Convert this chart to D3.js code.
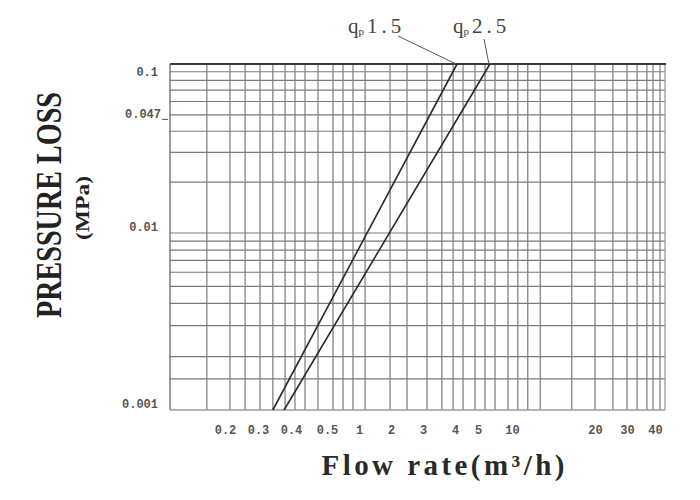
<!DOCTYPE html>
<html>
<head>
<meta charset="utf-8">
<script src="https://cdn.jsdelivr.net/npm/d3@7/dist/d3.min.js"></script>
<style>
  html, body { margin: 0; padding: 0; background: #fff; }
  svg { display: block; }
</style>
</head>
<body>
<svg id="chart" width="700" height="500"></svg>
<script>
// ---------------- data ----------------
const xTickValues = [0.2, 0.3, 0.4, 0.5, 1, 2, 3, 4, 5, 10, 20, 30, 40];
const xTickLabels = ["0.2", "0.3", "0.4", "0.5", "1", "2", "3", "4", "5", "10", "20", "30", "40"];
const xGridValues = [0.167, 0.215, 0.261, 0.306, 0.345, 0.382, 0.411, 0.439, 0.475,
  0.594, 0.75, 0.906, 1.19, 1.97, 2.5, 3.125, 3.59, 3.94, 4.35, 4.87,
  6.03, 7.5, 9.41, 10.7, 11.9, 13.4, 17.2, 20, 25.6, 30, 33.6, 37.1, 39.3, 45];
const yTickValues = [0.1, 0.047, 0.01, 0.001];
const yTickLabels = ["0.1", "0.047", "0.01", "0.001"];
const yGridValues = [0.0015, 0.002, 0.003, 0.004, 0.005, 0.006, 0.007, 0.008, 0.009,
  0.01, 0.02, 0.03, 0.04, 0.05, 0.06, 0.07, 0.08, 0.09];
const seriesNames = ["1.5", "2.5"];
const seriesQp15 = [[0.345, 0.001], [4.09, 0.1]];
const seriesQp25 = [[0.379, 0.001], [6.76, 0.1]];

// ---------------- layout ----------------
const L = 170, R = 665, T = 64, B = 410;
const svg = d3.select("#chart");

// x: piecewise (the chart's irregular scale), anchors at label centres
const xDomain = [0.1].concat(xTickValues, [50]);
const xRange = [170, 225, 258, 291, 327, 359, 391, 423, 455, 478, 512, 595, 627, 655, 665];
const x = d3.scaleLinear().domain(xDomain).range(xRange);
const y = d3.scaleLog().domain([0.001, 0.01, 0.1]).range([B, 233, T]);

const g = svg.append("g");

// vertical grid
g.selectAll("line.vg").data(xGridValues).join("line")
  .attr("x1", d => x(d)).attr("x2", d => x(d))
  .attr("y1", T).attr("y2", B)
  .attr("stroke", "#7a7a7a").attr("stroke-width", 1.2);

// horizontal grid
g.selectAll("line.hg").data(yGridValues).join("line")
  .attr("x1", L).attr("x2", R)
  .attr("y1", d => y(d)).attr("y2", d => y(d))
  .attr("stroke", "#7a7a7a").attr("stroke-width", 1.2);

// frame
g.append("line").attr("x1", L).attr("x2", L).attr("y1", T).attr("y2", B)
  .attr("stroke", "#6a6a6a").attr("stroke-width", 1.3);
g.append("line").attr("x1", R).attr("x2", R).attr("y1", T).attr("y2", B)
  .attr("stroke", "#9a9a9a").attr("stroke-width", 1.3);
g.append("line").attr("x1", L).attr("x2", R).attr("y1", B).attr("y2", B)
  .attr("stroke", "#9a9a9a").attr("stroke-width", 1.5);
g.append("line").attr("x1", L).attr("x2", R + 1).attr("y1", T).attr("y2", T)
  .attr("stroke", "#3a3a3a").attr("stroke-width", 2);

// curves
const line = d3.line().x(d => x(d[0])).y(d => y(d[1]));
[seriesQp15, seriesQp25].forEach(s => {
  g.append("path").datum(s).attr("d", line)
    .attr("fill", "none").attr("stroke", "#2a2a2a").attr("stroke-width", 1.6);
});

// x tick labels
const xAxis = d3.axisBottom(x).tickValues(xTickValues)
  .tickFormat((d, i) => xTickLabels[i]).tickSize(0).tickPadding(0);
const xa = svg.append("g").attr("transform", `translate(0,${B})`).call(xAxis);
xa.select(".domain").remove();
xa.selectAll("text").attr("dy", null).attr("y", 24)
  .attr("font-family", "Liberation Mono, monospace").attr("font-size", 12)
  .attr("font-weight", "bold").attr("fill", "#555");

// y tick labels
const ya = svg.append("g");
ya.selectAll("text").data(yTickValues).join("text")
  .attr("x", (d, i) => i === 1 ? 161 : 158)
  .attr("y", d => Math.max(y(d) - 6, T + 8))
  .attr("dy", "0.35em")
  .attr("text-anchor", "end")
  .attr("font-family", "Liberation Mono, monospace").attr("font-size", 12)
  .attr("font-weight", "bold").attr("fill", "#555")
  .text((d, i) => yTickLabels[i]);
// small tick dash at 0.047
ya.append("line").attr("x1", 162).attr("x2", 168)
  .attr("y1", y(0.047)).attr("y2", y(0.047))
  .attr("stroke", "#555").attr("stroke-width", 1);

// axis titles
svg.append("text")
  .attr("transform", "translate(61,205) rotate(-90)")
  .attr("text-anchor", "middle")
  .attr("font-family", "Liberation Serif, serif").attr("font-weight", "bold")
  .attr("font-size", 36).attr("fill", "#222")
  .attr("textLength", 226).attr("lengthAdjust", "spacingAndGlyphs")
  .text("PRESSURE LOSS");
svg.append("text")
  .attr("transform", "translate(89,208) rotate(-90)")
  .attr("text-anchor", "middle")
  .attr("font-family", "Liberation Serif, serif").attr("font-weight", "bold")
  .attr("font-size", 19).attr("fill", "#222")
  .attr("textLength", 64).attr("lengthAdjust", "spacingAndGlyphs")
  .text("(MPa)");
svg.append("text")
  .attr("x", 443).attr("y", 475)
  .attr("text-anchor", "middle")
  .attr("font-family", "Liberation Serif, serif").attr("font-weight", "bold")
  .attr("font-size", 29).attr("fill", "#2a2a2a")
  .attr("textLength", 243).attr("lengthAdjust", "spacing")
  .text("Flow rate(m³/h)");

// series labels with leader lines
const labelPos = [{ lx: 348, ly: 33, ax: 398, ay: 36 }, { lx: 453, ly: 33, ax: 484, ay: 39 }];
[seriesQp15, seriesQp25].forEach((s, i) => {
  const p = labelPos[i];
  const t = svg.append("text").attr("x", p.lx).attr("y", p.ly)
    .attr("font-family", "Liberation Serif, serif").attr("font-size", 21)
    .attr("fill", "#444");
  t.append("tspan").text("q");
  t.append("tspan").attr("font-size", 11).attr("dy", 2).text("p");
  t.append("tspan").attr("dy", -2).attr("dx", 3).attr("letter-spacing", 4).text(seriesNames[i]);
  const top = s[s.length - 1];
  svg.append("line").attr("x1", p.ax).attr("y1", p.ay)
    .attr("x2", x(top[0]) - 1).attr("y2", y(top[1]))
    .attr("stroke", "#555").attr("stroke-width", 1);
});
</script>
</body>
</html>
